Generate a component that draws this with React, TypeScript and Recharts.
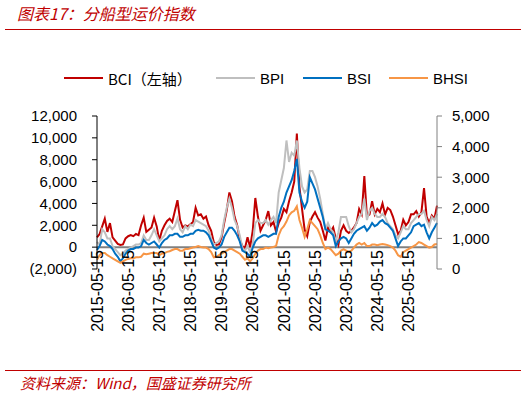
import React from 'react';
import { LineChart, Line, XAxis, YAxis, ReferenceLine } from 'recharts';

// monthly readings, 2015-05 .. 2026-04
const bci = [
  900, 1200, 1900, 2600, 1400, 2200, 900, 600,
  300, 200, 250, 800, 1000, 1100, 1000, 1200, 1100, 2000, 2700, 1400,
  1600, 1800, 2700, 1900, 600, 1500, 2000, 2400, 2600, 2300, 3300, 4300,
  2500, 1800, 2000, 1900, 2100, 2300, 3600, 2900, 3000, 2600, 2800, 2000,
  1500, 450, 200, 250, 900, 2200, 3400, 5000, 4200, 2800, 2000, 700,
  100, -100, 900, 0, 1500, 4500, 2800, 1500, 2000, 2500, 3300, 2000,
  2300, 1400, 2200, 2700, 3500, 3200, 4200, 5000, 6000, 10400, 5500, 3500,
  1600, 1000, 2300, 2800, 3200, 2700, 2300, 1500, 600, 1800, 1400, 1800,
  800, 200, 1500, 2000, 1500, 1300, 1500, 1800, 2200, 3500, 3000, 6500,
  2800, 3000, 4200, 3000, 3500, 3200, 4000, 3000, 3600, 3400, 2800, 2000,
  1200, 1500, 2500, 2000, 2300, 3000, 3000, 3300, 2800, 3200, 5400, 2800,
  2200, 2900, 2600, 3800,
];

const bpi = [
  880, 800, 1300, 1200, 1000, 1000, 750, 650,
  550, 450, 500, 600, 650, 700, 750, 800, 800, 850, 1100, 950,
  950, 1100, 1300, 1100, 900, 1000, 1100, 1300, 1400, 1300, 1400, 1650,
  1300, 1200, 1400, 1300, 1450, 1400, 1600, 1550, 1500, 1450, 1400, 1250,
  1000, 800, 850, 900, 1100, 1600, 2000, 2300, 2000, 1600, 1400, 1100,
  700, 600, 750, 550, 800, 1500, 1600, 1500, 1500, 1600, 1450, 1600,
  1700, 1500, 2500, 2900, 3300, 4200, 3500, 3800, 3700, 4200, 3300, 2700,
  2500, 2600, 3200, 3200, 3000, 2700, 2300, 1800, 1300, 1500, 1300, 1200,
  900, 1200, 1700, 1700, 1700, 1400, 1200, 1300, 1500, 1700, 1800, 2300,
  1600, 1900, 2000, 1800, 1700, 1700, 1800, 1700, 1500, 1400, 1300, 1100,
  1000, 1200, 1400, 1300, 1300, 1500, 1600, 1700, 1800, 1800, 1900, 1600,
  1400, 1700, 1600, 1800,
];

const bsi = [
  620, 750, 950, 900, 800, 750, 650, 500,
  400, 250, 350, 500, 600, 650, 650, 700, 700, 750, 950, 850,
  800, 850, 900, 800, 700, 850, 950, 1000, 1100, 1100, 1150, 1150,
  1050, 1050, 1100, 1100, 1150, 1150, 1250, 1280, 1250, 1250, 1200, 1100,
  900, 700, 650, 700, 800, 1050, 1200, 1350, 1350, 1250, 1100, 900,
  600, 550, 500, 400, 700, 900, 1000, 1050, 1100, 1100, 1050, 1100,
  1150, 1150, 1700, 2000, 2200, 2500, 2700, 2900, 3200, 3600, 2500, 2200,
  2000, 2200, 3000, 2800, 2600, 2300, 2000, 1700, 1300, 1250, 1200, 1100,
  750, 900, 1000, 1050, 1000, 850, 1000, 1150, 1250, 1300, 1350, 1400,
  1250, 1350, 1500, 1400, 1450, 1550, 1600, 1500, 1450, 1350, 1250, 1000,
  750, 900, 1000, 1000, 1100, 1200, 1400, 1450, 1500, 1400, 1450, 1200,
  1000, 1200, 1350, 1500,
];

const bhsi = [
  300, 450, 520, 520, 450, 400, 350, 300,
  250, 200, 250, 300, 330, 350, 350, 380, 380, 400, 500, 480,
  500, 520, 520, 520, 450, 500, 520, 560, 580, 620, 650, 650,
  600, 600, 650, 650, 680, 700, 720, 750, 720, 700, 700, 650,
  550, 380, 400, 450, 500, 550, 600, 650, 650, 600, 550, 500,
  400, 300, 350, 250, 350, 500, 600, 650, 650, 700, 680, 700,
  720, 750, 1100, 1300, 1400, 1550, 1750, 1850, 1900, 2050, 1600, 1350,
  1050, 1300, 1600, 1500, 1400, 1300, 1100, 850, 650, 700, 650, 550,
  450, 500, 600, 650, 600, 550, 600, 700, 800, 850, 800, 850,
  750, 750, 800, 800, 780, 800, 820, 800, 780, 750, 700, 600,
  450, 400, 550, 600, 650, 700, 750, 800, 880, 850, 800, 750,
  700, 720, 800, 820,
];

const yearTicks = [
  '2015-05-15', '2016-05-15', '2017-05-15', '2018-05-15', '2019-05-15', '2020-05-15',
  '2021-05-15', '2022-05-15', '2023-05-15', '2024-05-15', '2025-05-15',
];
const leftTicks = [-2000, 0, 2000, 4000, 6000, 8000, 10000, 12000];
const rightTicks = [0, 1000, 2000, 3000, 4000, 5000];

// one category per month, dated the 15th, starting May 2015
const dates = bci.map((_, i) => {
  const n = 4 + i;
  const y = 2015 + Math.floor(n / 12);
  const m = (n % 12) + 1;
  return `${y}-${String(m).padStart(2, '0')}-15`;
});

const data = dates.map((date, i) => ({
  date,
  BCI: bci[i],
  BPI: bpi[i],
  BSI: bsi[i],
  BHSI: bhsi[i],
}));

const RED = '#C00000';
const LATIN = '"Liberation Sans", Arial, sans-serif';
const CJK = '"Noto Sans CJK SC", "Liberation Sans", sans-serif';

const series = [
  { key: 'BCI', label: 'BCI（左轴）', color: RED, axis: 'left' },
  { key: 'BPI', label: 'BPI', color: '#BFBFBF', axis: 'right' },
  { key: 'BSI', label: 'BSI', color: '#0070C0', axis: 'right' },
  { key: 'BHSI', label: 'BHSI', color: '#F79646', axis: 'right' },
];

const legendPos = [64, 216, 303, 389];

const fmtLeft = (v: number) =>
  v < 0 ? `(${Math.abs(v).toLocaleString('en-US')})` : v.toLocaleString('en-US');

const YearTick = (props: any) => {
  const { x, y, payload } = props;
  if (!yearTicks.includes(payload.value)) return null;
  return (
    <g transform={`translate(${x},${y - 19})`}>
      <text transform="rotate(-90)" textAnchor="end" dy="0.36em" fontSize={16} fill="#000" fontFamily={LATIN}>
        {payload.value}
      </text>
    </g>
  );
};

export default function App() {
  return (
    <div style={{ position: 'absolute', left: 0, top: 0, width: 526, height: 396, background: '#fff', overflow: 'hidden' }}>
      <div
        style={{
          position: 'absolute', left: 17, top: 3, fontSize: 16, lineHeight: '21px',
          color: RED, fontStyle: 'italic', fontFamily: CJK,
        }}
      >
        图表17：分船型运价指数
      </div>
      <div style={{ position: 'absolute', left: 5, top: 29, width: 516, borderTop: `1.5px solid ${RED}` }} />

      {series.map((s, i) => (
        <div key={s.key} style={{ position: 'absolute', left: legendPos[i], top: 68, height: 20, display: 'flex', alignItems: 'center' }}>
          <div style={{ width: 39, borderTop: `2.5px solid ${s.color}` }} />
          <span style={{ marginLeft: 5, fontSize: 15, fontFamily: s.key === 'BCI' ? CJK : LATIN, color: '#000' }}>{s.label}</span>
        </div>
      ))}

      <div style={{ position: 'absolute', top: 0, left: 0 }}>
        <LineChart width={526} height={396} data={data} margin={{ top: 116, right: 29, bottom: 67, left: 37 }}>
          <XAxis
            dataKey="date"
            scale="point"
            padding={{ left: 0, right: 0 }}
            interval={0}
            tick={<YearTick />}
            tickLine={false}
            axisLine={false}
            tickSize={0}
            tickMargin={0}
            height={60}
          />
          <YAxis
            yAxisId="left"
            domain={[-2000, 12000]}
            ticks={leftTicks}
            interval={0}
            tickFormatter={fmtLeft}
            width={60}
            tickSize={5}
            tickMargin={15}
            axisLine={{ stroke: '#000' }}
            tickLine={{ stroke: '#000' }}
            tick={{ fontSize: 15, fill: '#000', fontFamily: LATIN }}
            allowDataOverflow
          />
          <YAxis
            yAxisId="right"
            orientation="right"
            domain={[0, 5000]}
            ticks={rightTicks}
            interval={0}
            tickFormatter={(v: number) => v.toLocaleString('en-US')}
            width={60}
            tickSize={5}
            tickMargin={10}
            axisLine={{ stroke: '#808080' }}
            tickLine={{ stroke: '#808080' }}
            tick={{ fontSize: 15, fill: '#000', fontFamily: LATIN, textAnchor: 'start' }}
            allowDataOverflow
          />
          <ReferenceLine yAxisId="left" y={0} stroke="#808080" strokeWidth={2} />
          {series.map((s) => (
            <Line
              key={s.key}
              yAxisId={s.axis}
              dataKey={s.key}
              stroke={s.color}
              strokeWidth={2}
              dot={false}
              type="linear"
              isAnimationActive={false}
            />
          ))}
        </LineChart>
      </div>

      <div style={{ position: 'absolute', left: 5, top: 370, width: 516, borderTop: `1.5px solid ${RED}` }} />
      <div
        style={{
          position: 'absolute', left: 20, top: 373, fontSize: 15, lineHeight: '20px',
          color: RED, fontStyle: 'italic', fontFamily: CJK,
        }}
      >
        资料来源：Wind，国盛证券研究所
      </div>
    </div>
  );
}
